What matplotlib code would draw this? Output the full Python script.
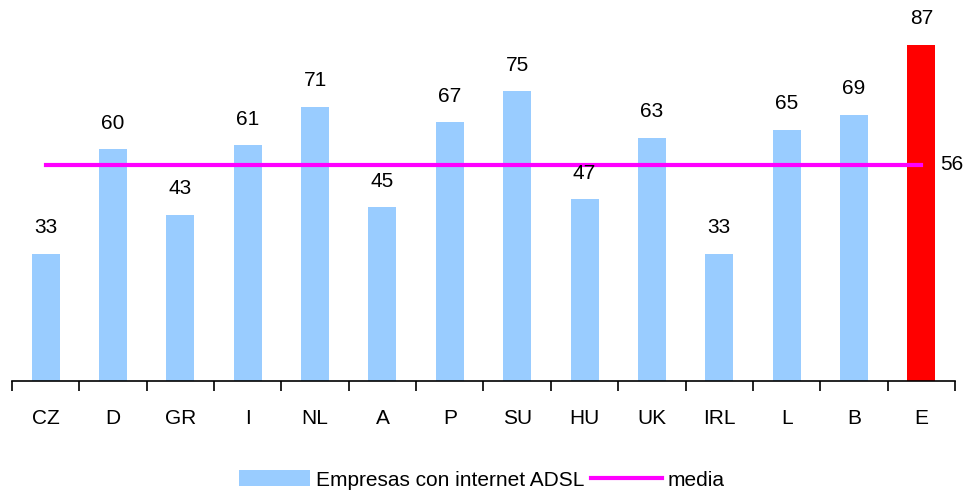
import matplotlib
matplotlib.use("Agg")
import matplotlib.pyplot as plt
import numpy as np
from matplotlib.ticker import FixedLocator, NullFormatter

categories = ["CZ", "D", "GR", "I", "NL", "A", "P", "SU", "HU", "UK", "IRL", "L", "B", "E"]
values = [33, 60, 43, 61, 71, 45, 67, 75, 47, 63, 33, 65, 69, 87]
media = 56
bar_label = "Empresas con internet ADSL"
line_label = "media"

plt.rcParams['font.family'] = ['Liberation Sans', 'DejaVu Sans']

fig = plt.figure(figsize=(9.7, 4.92), dpi=100)
ax = fig.add_axes([12/970, (492-381)/492, (955-12)/970, 347.6/492])

x = np.arange(len(categories))
colors = ["#99CCFF"] * (len(categories) - 1) + ["#FF0000"]
bars = ax.bar(x, values, width=0.415, color=colors, zorder=2, label=bar_label)
line, = ax.plot([x[0], x[-1]], [media, media], color="#FF00FF", lw=3, zorder=3, label=line_label)

for xi, v in zip(x, values):
    ax.text(xi, v + 4.3, str(v), ha="center", va="bottom", fontsize=15)
ax.text(x[-1] + 0.28, media, str(media), ha="left", va="center", fontsize=15)

ax.set_xlim(-0.5, len(categories) - 0.5)
ax.set_ylim(0, 90)
for s in ["top", "right", "left"]:
    ax.spines[s].set_visible(False)
ax.spines["bottom"].set_linewidth(1.2)
ax.set_yticks([])
ax.set_xticks(x)
ax.set_xticklabels(categories, fontsize=15)
ax.tick_params(axis="x", which="major", length=0, pad=20)
ax.xaxis.set_minor_locator(FixedLocator(np.arange(-0.5, len(categories), 1.0)))
ax.xaxis.set_minor_formatter(NullFormatter())
ax.tick_params(axis="x", which="minor", length=7, width=1.2, direction="out")

fig.legend([bars, line], [bar_label, line_label], loc="center", bbox_to_anchor=(482/970, 1 - 480/492), ncol=2,
           frameon=False, fontsize=15, handlelength=3.4, handleheight=0.8,
           columnspacing=0.3, handletextpad=0.3)

fig.savefig("out.png", dpi=100)
